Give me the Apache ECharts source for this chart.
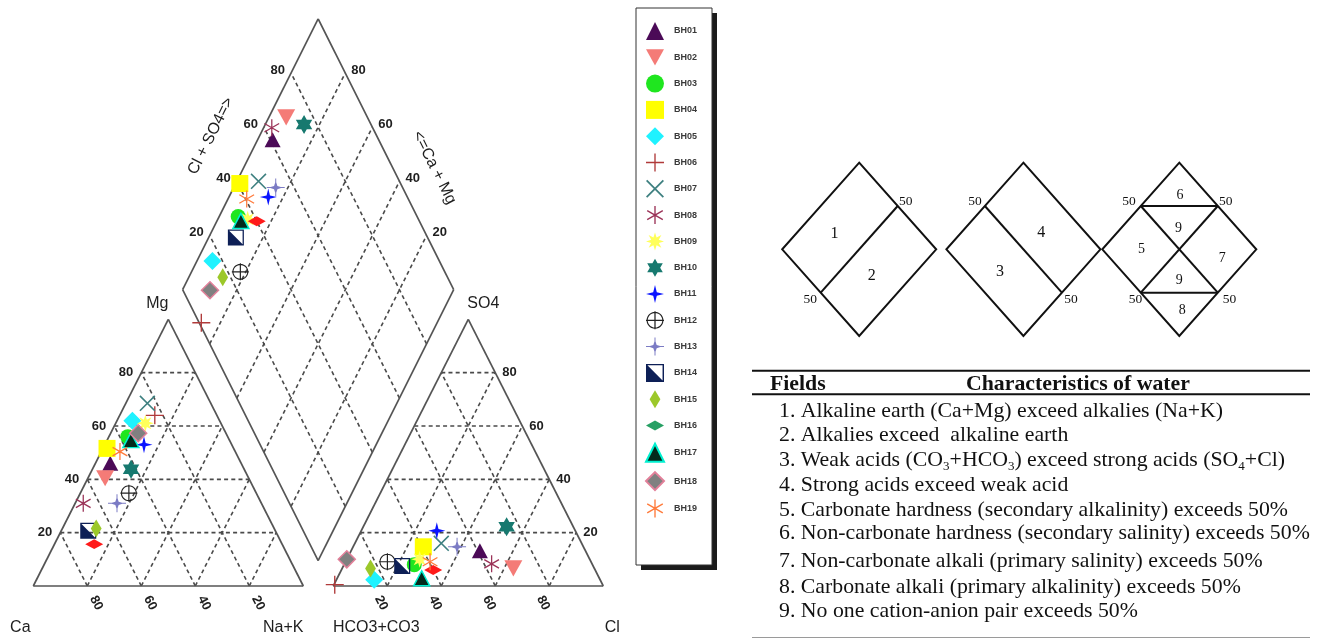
<!DOCTYPE html>
<html><head><meta charset="utf-8">
<script src="https://cdn.jsdelivr.net/npm/echarts@6/dist/echarts.min.js"></script>
<style>html,body{margin:0;padding:0;background:#fff}#c{width:1322px;height:640px}</style>
</head><body><div id="c"></div>
<script>
// ---------------- data (meq %) ----------------
const samples = ['BH01','BH02','BH03','BH04','BH05','BH06','BH07','BH08','BH09','BH10','BH11','BH12','BH13','BH14','BH15','BH16','BH17','BH18','BH19'];
const caPct   = [48.5,53.2,37,46.9,32.3,23,23.5,66,28,41.9,32.5,47.2,53.5,69.3,65.9,69.6,36.5,32.5,42.7];
const mgPct   = [46,40.4,56,51.6,62,64,68.5,31,61,43.8,53,34.8,31,20.7,21.6,15.7,54.7,57.3,50.4];
const naKPct  = [5.5,6.4,7,1.5,5.7,13,8,3,11,14.3,14.5,18,15.5,10,12.5,14.7,8.8,10.2,6.9];
const hco3Pct = [39.1,30,66,59.3,83.7,99.2,52,37.2,63,24.7,51.3,75.4,46.8,70.7,82.9,60,65.8,90,59.6];
const so4Pct  = [13.2,6.6,8,14.7,2.3,0.5,16,8.3,10,22.2,20.7,9.1,14.7,7.5,6.6,6,2.9,10,9.1];
const clPct   = [47.7,63.4,26,26,14,0.3,32,54.5,27,53.1,28,15.5,38.5,21.8,10.5,34,31.3,0,31.3];
const tickValues = [20,40,60,80];
const caTickLabels = ['80','60','40','20'];
const clTickLabels = ['20','40','60','80'];

// ---------------- geometry (layout) ----------------
const GAP = 11.1;
const DB = [105.5, 9.5], DHW = 50.2, DHH = 101.6;
function triL(ca, mg, nak){ const t=ca+mg+nak, m=mg/t*100, n=nak/t*100; return [n+m/2, m]; }
function triR(hco3, so4, cl){ const t=hco3+so4+cl, s=so4/t*100, c=cl/t*100; return [100+GAP+c+s/2, s]; }
function dia(caMg, so4Cl){ const c=caMg/100, a=so4Cl/100; return [DB[0]+(a-c)*DHW, DB[1]+(a+c)*DHH]; }

// ---------------- marker shapes ----------------
function f(v){ return v.toFixed(2); }
function bars(angles, hw, L){
  let d='';
  angles.forEach(a=>{ const r=a*Math.PI/180, c=Math.cos(r), s=Math.sin(r);
    const dx=c*L, dy=s*L, nx=-s*hw, ny=c*hw;
    const p=[[10+dx+nx,10+dy+ny],[10+dx-nx,10+dy-ny],[10-dx-nx,10-dy-ny],[10-dx+nx,10-dy+ny]];
    d+='M'+p.map(q=>f(q[0])+','+f(q[1])).join('L')+'Z'; });
  return d;
}
function star(n,R,r){ let d=''; for(let k=0;k<2*n;k++){ const a=(-90-k*180/n)*Math.PI/180, rr=k%2?r:R;
  d+=(k?'L':'M')+f(10+rr*Math.cos(a))+','+f(10+rr*Math.sin(a)); } return d+'Z'; }
function circ(r, ccw){ let d=''; const N=28; for(let k=0;k<N;k++){ const a=(ccw?-1:1)*k*2*Math.PI/N;
  d+=(k?'L':'M')+f(10+r*Math.cos(a))+','+f(10+r*Math.sin(a)); } return d+'Z'; }

const markerStyles = [
  {symbol:'triangle', size:[16,15], color:'#4b0a57'},
  {symbol:'path://M0,0L20,0L10,18Z', size:18, color:'#f47b77'},
  {symbol:'circle', size:15, color:'#1fe61f'},
  {symbol:'rect', size:17, color:'#ffff00'},
  {symbol:'diamond', size:18, color:'#1ff2ff'},
  {symbol:'path://'+bars([0,90],0.75,10), size:18, color:'#b03a3a'},
  {symbol:'path://'+bars([45,135],0.75,10), size:16, color:'#3e8080'},
  {symbol:'path://'+bars([90,30,150],0.75,10), size:17, color:'#9b3358'},
  {symbol:'path://'+star(8,10,4.6), size:17, color:'#ffff5a'},
  {symbol:'path://'+star(6,10,5.77), size:19, color:'#17796f'},
  {symbol:'path://'+star(4,10,2.8), size:17, color:'#0a14ff'},
  {symbol:'path://'+circ(9.4,true)+circ(8.1,false)+bars([0,90],0.7,10), size:17, color:'#222222'},
  {symbol:'path://'+star(4,7.5,2.6)+bars([0,90],0.55,10), size:18, color:'#7b7bc4'},
  {symbol:'path://M0,0L0,20L20,20L20,0ZM1.6,1.6L18.4,1.6L18.4,18.4L1.6,18.4ZM1.6,1.6L1.6,18.4L18.4,18.4Z', size:16, color:'#0d1f56'},
  {symbol:'path://M10,0L16,10L10,20L4,10Z', size:18, color:'#9cc82a'},
  {symbol:'path://M0,10L10,4.5L20,10L10,15.5Z', size:18, color:'#ff1a1a', legendColor:'#27a064'},
  {symbol:'triangle', size:[16,15], color:'#032a1c', borderColor:'#00f0d0', borderWidth:1.5},
  {symbol:'diamond', size:17, color:'#808080', borderColor:'#e2809a', borderWidth:1.5},
  {symbol:'path://'+bars([90,30,150],0.75,10), size:17, color:'#ff7a3a'}
];

// ---------------- frame segments ----------------
const segs = [];
function seg(p,q,dashed){ segs.push([p[0],p[1],q[0],q[1],dashed?1:0]); }
[0, 100+GAP].forEach(o=>{
  tickValues.forEach(k=>{
    seg([o+k/2,k],[o+100-k/2,k],true);
    seg([o+k,0],[o+k+(100-k)/2,100-k],true);
    seg([o+100-k,0],[o+(100-k)/2,100-k],true);
  });
});
tickValues.forEach(k=>{ seg(dia(0,k),dia(100,k),true); seg(dia(k,0),dia(k,100),true); });
[0, 100+GAP].forEach(o=>{ seg([o,0],[o+100,0]); seg([o+100,0],[o+50,100]); seg([o+50,100],[o,0]); });
seg(dia(0,0),dia(100,0)); seg(dia(100,0),dia(100,100)); seg(dia(100,100),dia(0,100)); seg(dia(0,100),dia(0,0));

// ---------------- text labels ----------------
const texts = [];
function txt(pt, text, o){ texts.push(Object.assign({pt, text, size:13, weight:'bold'}, o)); }
tickValues.forEach((k,i)=>{
  txt([k/2,k], String(k), {dx:-8, align:'right'});
  txt([100-Number(caTickLabels[i]),0], caTickLabels[i], {dx:9, dy:17, rot:-63.2});
  txt([100+GAP+Number(clTickLabels[i]),0], clTickLabels[i], {dx:-6, dy:17, rot:-63.2});
  txt([100+GAP+100-k/2,k], String(k), {dx:7, align:'left'});
  txt(dia(100,k), String(k), {dx:-6, dy:-3, align:'right'});
  txt(dia(k,100), String(k), {dx:6, dy:-3, align:'left'});
});
const T = {size:16, weight:'normal'};
txt([50,100], 'Mg', Object.assign({dx:-11, dy:-16}, T));
txt([0,0], 'Ca', Object.assign({dx:-13, dy:42}, T));
txt([100,0], 'Na+K', Object.assign({dx:-20, dy:42}, T));
txt([150+GAP,100], 'SO4', Object.assign({dx:15, dy:-16}, T));
txt([100+GAP,0], 'HCO3+CO3', Object.assign({dx:43, dy:42}, T));
txt([200+GAP,0], 'Cl', Object.assign({dx:9, dy:42}, T));
txt(dia(100,50), 'Cl + SO4=>', Object.assign({dx:-39.5, dy:-18.3, rot:63.4}, T));
txt(dia(50,100), '<=Ca + Mg', Object.assign({dx:48.3, dy:13.3, rot:-63.4}, T));

// ---------------- series ----------------
const series = [];
series.push({
  type:'custom', coordinateSystem:'cartesian2d', silent:true, z:1,
  data: segs,
  renderItem:(params, api)=>{
    const p1=api.coord([api.value(0),api.value(1)]), p2=api.coord([api.value(2),api.value(3)]);
    const dashed = api.value(4)===1;
    return {type:'line', shape:{x1:p1[0],y1:p1[1],x2:p2[0],y2:p2[1]},
      style:{stroke: dashed?'#4a4a4a':'#555', lineWidth: dashed?1.6:1.7, lineDash: dashed?[4,3.2]:null}};
  }
});
series.push({
  type:'custom', coordinateSystem:'cartesian2d', silent:true, z:2,
  data: texts.map(t=>t.pt),
  renderItem:(params, api)=>{
    const t=texts[params.dataIndex], p=api.coord(t.pt);
    return {type:'text', x:p[0]+(t.dx||0), y:p[1]+(t.dy||0), rotation:(t.rot||0)*Math.PI/180,
      style:{text:t.text, fill:'#1e1e1e', fontSize:t.size, fontWeight:t.weight,
        fontFamily:'"Liberation Sans", Arial, sans-serif', align:t.align||'center', verticalAlign:'middle'}};
  }
});
samples.forEach((name,i)=>{
  const st = markerStyles[i];
  series.push({
    name, type:'scatter', silent:true, z:3,
    symbol: st.symbol, symbolSize: st.size, symbolKeepAspect:true,
    itemStyle:{color:st.color, borderColor:st.borderColor||st.color, borderWidth:st.borderWidth||0, opacity:1},
    data:[
      triL(caPct[i], mgPct[i], naKPct[i]),
      triR(hco3Pct[i], so4Pct[i], clPct[i]),
      dia(caPct[i]+mgPct[i], so4Pct[i]+clPct[i])
    ]
  });
});

// ---------------- right side (classification key + table) ----------------
const G = [];
G.push({type:'rect', z:-10, shape:{x:641, y:13, width:76, height:557}, style:{fill:'#1b1b1b'}});
G.push({type:'rect', z:-9, shape:{x:636, y:8, width:76, height:557}, style:{fill:'#ffffff', stroke:'#333', lineWidth:1}});

const LS = {stroke:'#111', lineWidth:2, fill:null};
const serif = '"Liberation Serif", "Times New Roman", serif';
function gLine(x1,y1,x2,y2,st){ G.push({type:'line', shape:{x1,y1,x2,y2}, style:Object.assign({}, LS, st||{})}); }
function gPoly(pts){ G.push({type:'polygon', shape:{points:pts}, style:Object.assign({}, LS, {fill:'none'})}); }
function gText(x,y,text,o){ G.push({type:'text', x, y, style:Object.assign({text, fill:'#111', fontSize:15,
  fontFamily:serif, align:'center', verticalAlign:'middle'}, o||{})}); }
const HW = 77;
function diamondKey(cx){
  const t=[cx,162.7], r=[cx+HW,249.3], b=[cx,336], l=[cx-HW,249.3];
  gPoly([t,r,b,l]);
  const mid=(p,q)=>[(p[0]+q[0])/2,(p[1]+q[1])/2];
  return {UL:mid(t,l), UR:mid(t,r), LL:mid(l,b), LR:mid(r,b)};
}
const S50 = {fontSize:13.5};
let m = diamondKey(859.2);
gLine(m.LL[0],m.LL[1],m.UR[0],m.UR[1]);
gText(834.5,233.3,'1',{fontSize:16}); gText(871.8,276,'2',{fontSize:16});
gText(810.2,299.3,'50',S50); gText(905.7,201.7,'50',S50);
m = diamondKey(1023.4);
gLine(m.UL[0],m.UL[1],m.LR[0],m.LR[1]);
gText(1041.3,232.7,'4',{fontSize:16}); gText(1000,271.7,'3',{fontSize:16});
gText(975,201.7,'50',S50); gText(1071,299.3,'50',S50);
m = diamondKey(1179.3);
gLine(m.UL[0],m.UL[1],m.UR[0],m.UR[1]); gLine(m.LL[0],m.LL[1],m.LR[0],m.LR[1]);
gLine(m.UL[0],m.UL[1],m.LR[0],m.LR[1]); gLine(m.UR[0],m.UR[1],m.LL[0],m.LL[1]);
gText(1180,195,'6',{fontSize:14}); gText(1178.5,228.3,'9',{fontSize:14}); gText(1141.6,249.3,'5',{fontSize:14});
gText(1222.3,258.3,'7',{fontSize:14}); gText(1179.3,280,'9',{fontSize:14}); gText(1182.2,310.7,'8',{fontSize:14});
gText(1129,201.7,'50',S50); gText(1225.8,201.7,'50',S50);
gText(1135.5,299.3,'50',S50); gText(1229.5,299.3,'50',S50);

gLine(752,370.7,1310,370.7,{lineWidth:2});
gLine(752,394.3,1310,394.3,{lineWidth:2});
gLine(752,637.5,1310,637.5,{lineWidth:1,stroke:'#9a9a9a'});
const FS = 21.8;
gText(770,384,'Fields',{fontSize:FS, fontWeight:'bold', align:'left'});
gText(966,384,'Characteristics of water',{fontSize:FS, fontWeight:'bold', align:'left'});
const rowsY = [411.7,435,460,485,510,533.3,561.7,587.3,611.7];
const rows = [
  '1. Alkaline earth (Ca+Mg) exceed alkalies (Na+K)',
  '2. Alkalies exceed  alkaline earth',
  null,
  '4. Strong acids exceed weak acid',
  '5. Carbonate hardness (secondary alkalinity) exceeds 50%',
  '6. Non-carbonate hardness (secondary salinity) exceeds 50%',
  '7. Non-carbonate alkali (primary salinity) exceeds 50%',
  '8. Carbonate alkali (primary alkalinity) exceeds 50%',
  '9. No one cation-anion pair exceeds 50%'
];
rows.forEach((r,i)=>{ if(r) gText(779,rowsY[i],r,{fontSize:FS, align:'left'}); });
G.push({type:'text', x:779, y:rowsY[2], style:{
  text:'{n|3. Weak acids (CO}{s|3}{n|+HCO}{s|3}{n|) exceed strong acids (SO}{s|4}{n|+Cl)}',
  align:'left', verticalAlign:'middle',
  rich:{ n:{fontSize:FS, fontFamily:serif, fill:'#111', lineHeight:26},
         s:{fontSize:13, fontFamily:serif, fill:'#111', verticalAlign:'bottom', lineHeight:15} }
}});

// ---------------- chart ----------------
const chart = echarts.init(document.getElementById('c'), null, {renderer:'canvas'});
chart.setOption({
  animation:false,
  backgroundColor:'#ffffff',
  grid:{left:0, right:0, top:0, bottom:0},
  xAxis:{type:'value', min:-12.3333, max:477.2963, show:false},
  yAxis:{type:'value', min:-20.25, max:219.75, show:false},
  legend:{
    orient:'vertical', left:636, top:9, padding:[13,15,49,9], z:5,
    itemWidth:18, itemHeight:18, itemGap:8.3, selectedMode:false,
    textStyle:{fontSize:9, fontWeight:'bold', color:'#3a3a3a', fontFamily:'"Liberation Sans", Arial, sans-serif',
      padding:[0,0,0,5], lineHeight:18, height:18, verticalAlign:'middle'},
    data: samples.map((n,i)=> markerStyles[i].legendColor ? {name:n, itemStyle:{color:markerStyles[i].legendColor, borderColor:markerStyles[i].legendColor}} : n)
  },
  graphic: G,
  series
});
</script></body></html>
